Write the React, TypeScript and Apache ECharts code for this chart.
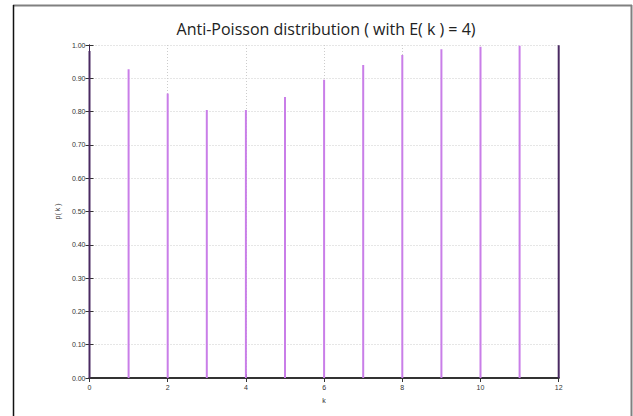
import React, { useEffect, useRef } from "react";
import * as echarts from "echarts";

const kValues = [0, 1, 2, 3, 4, 5, 6, 7, 8, 9, 10, 11, 12];
const probValues = [0.982, 0.927, 0.854, 0.805, 0.805, 0.844, 0.896, 0.94, 0.97, 0.987, 0.995, 0.998, 0.999];
const titleText = "Anti-Poisson distribution ( with E( k ) = 4)";
const xName = "k";
const yName = "p( k )";

export default function App() {
  const ref = useRef<HTMLDivElement>(null);
  useEffect(() => {
    document.body.style.margin = "0";
    const chart = echarts.init(ref.current!, null, { renderer: "svg" });
    const labelStyle = { fontSize: 7, color: "#333", fontFamily: "Liberation Sans" };
    const data = kValues.map((k, i) => [k, probValues[i]]);
    chart.setOption({
      animation: false,
      backgroundColor: "#fff",
      grid: { left: 89.5, right: 74.3, top: 45, bottom: 38, containLabel: false },
      xAxis: [
        {
          type: "value", min: 0, max: 12, interval: 2, position: "bottom",
          name: xName, nameLocation: "middle", nameGap: 19, nameTextStyle: labelStyle,
          axisLine: { show: true, lineStyle: { color: "#222", width: 1.5 } },
          axisTick: { show: true, inside: true, length: 4, lineStyle: { color: "#222" } },
          axisLabel: { ...labelStyle, margin: 6 },
          splitLine: { show: true, lineStyle: { color: "#ccc", type: [1, 2], width: 1 } },
        },
        {
          type: "value", min: 0, max: 12, interval: 2, position: "top",
          axisLine: { show: true, lineStyle: { color: "#333", width: 2 } },
          axisTick: { show: true, inside: true, length: 4, lineStyle: { color: "#333" } },
          axisLabel: { show: false }, splitLine: { show: false },
        },
      ],
      yAxis: [
        {
          type: "value", min: 0, max: 1, interval: 0.1, position: "left",
          name: yName, nameLocation: "middle", nameGap: 25, nameRotate: 90, nameTextStyle: labelStyle,
          axisLine: { show: true, lineStyle: { color: "#3a2250", width: 1 } },
          axisTick: { show: true, inside: true, length: 4, lineStyle: { color: "#333" } },
          axisLabel: { ...labelStyle, margin: 4, formatter: (v: number) => v.toFixed(2) },
          splitLine: { show: true, lineStyle: { color: "#ccc", type: [1, 2], width: 1 } },
        },
        {
          type: "value", min: 0, max: 1, interval: 0.1, position: "right",
          axisLine: { show: true, lineStyle: { color: "#3a2250", width: 1 } },
          axisTick: { show: true, inside: true, length: 4, lineStyle: { color: "#333" } },
          axisLabel: { show: false }, splitLine: { show: false },
        },
      ],
      series: [
        {
          type: "bar", xAxisIndex: 0, yAxisIndex: 0, data, barWidth: 2, clip: false, z: 2,
          itemStyle: {
            color: (p: any) => (p.value[0] === 0 || p.value[0] === 12 ? "#4a2a62" : "#c97ee8"),
          },
        },
      ],
      graphic: [
        { type: "line", shape: { x1: 13, y1: 5.5, x2: 632, y2: 5.5 }, style: { stroke: "#808080", lineWidth: 2 } },
        { type: "line", shape: { x1: 13.5, y1: 5, x2: 13.5, y2: 416 }, style: { stroke: "#111", lineWidth: 1.5 } },
        { type: "line", shape: { x1: 631.5, y1: 5, x2: 631.5, y2: 416 }, style: { stroke: "#808080", lineWidth: 2 } },
        {
          type: "text", x: 326, y: 29,
          style: { text: titleText, fontSize: 16, fontFamily: "Open Sans", fill: "#222", textAlign: "center", textVerticalAlign: "middle" },
        },
      ],
    });
    return () => chart.dispose();
  }, []);
  return <div ref={ref} style={{ width: 633, height: 416 }} />;
}
